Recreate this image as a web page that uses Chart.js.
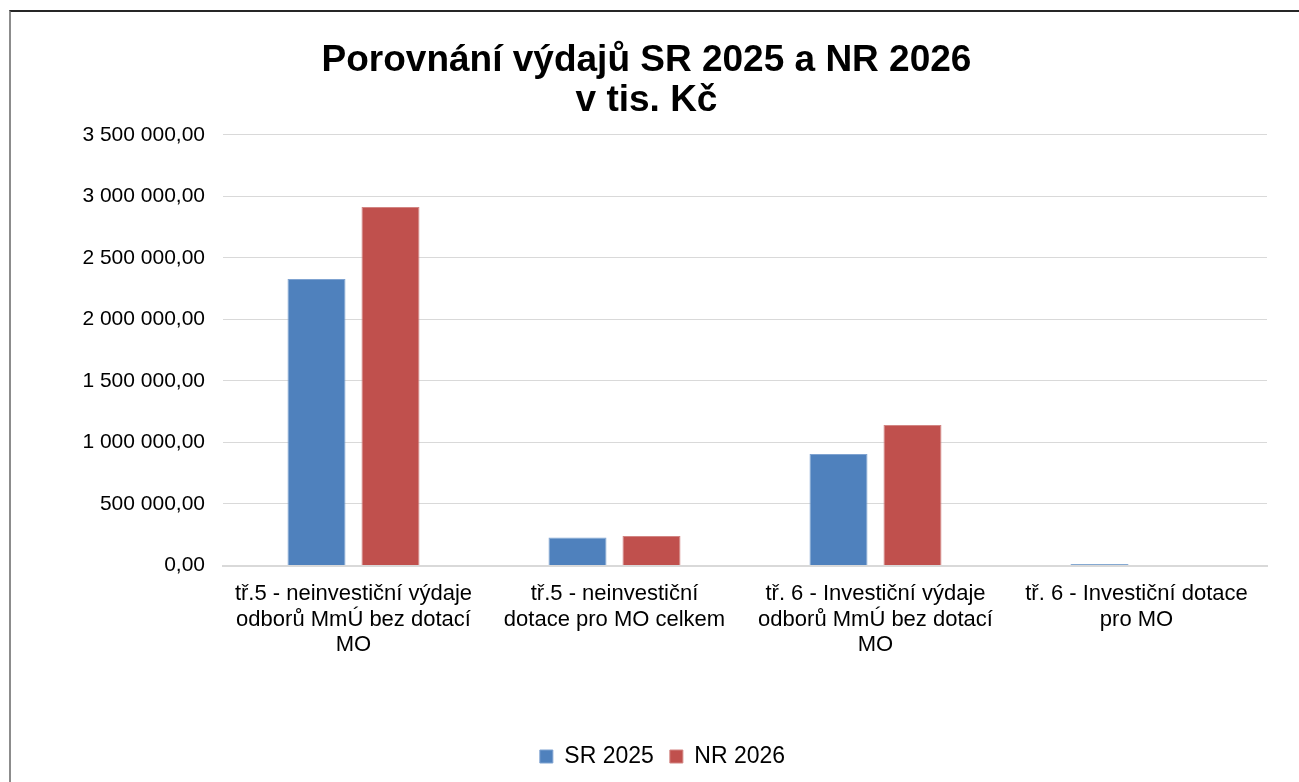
<!DOCTYPE html>
<html>
<head>
<meta charset="utf-8">
<script src="https://cdn.jsdelivr.net/npm/chart.js@4"></script>
<style>
    html, body { margin: 0; padding: 0; background: #fff; }
    #wrap { position: relative; width: 1299px; height: 782px; overflow: hidden; }
    #frame {
        position: absolute; left: 9px; top: 10px; width: 1400px; height: 900px;
        border-top: 2px solid #262626; border-left: 2px solid #8c8c8c;
        pointer-events: none;
    }
</style>
</head>
<body>
<div id="wrap">
    <canvas id="chart" width="1299" height="782"></canvas>
    <div id="frame"></div>
</div>
<script>
        const categories = [
            ['tř.5 - neinvestiční výdaje', 'odborů MmÚ bez dotací', 'MO'],
            ['tř.5 - neinvestiční', 'dotace pro MO celkem'],
            ['tř. 6 - Investiční výdaje', 'odborů MmÚ bez dotací', 'MO'],
            ['tř. 6 - Investiční dotace', 'pro MO']
        ];
        const sr2025 = [2329000, 228000, 906000, 12000];
        const nr2026 = [2915000, 239000, 1143000, 0];
        const yMax = 3500000;
        const yStep = 500000;

        const FONT = '"Liberation Sans", Arial, sans-serif';

        function formatCz(v) {
            const parts = Math.round(v).toString().replace(/\B(?=(\d{3})+(?!\d))/g, ' ');
            return parts + ',00';
        }

        // posune legendu trochu doprava jako v originale
        const legendShift = {
            id: 'legendShift',
            afterLayout(chart) {
                chart.legend.left += 16;
                chart.legend.right += 16;
            }
        };

        const ctx = document.getElementById('chart').getContext('2d');
        const chart = new Chart(ctx, {
            type: 'bar',
            data: {
                labels: categories,
                datasets: [{
                    label: 'SR 2025',
                    data: sr2025,
                    backgroundColor: '#4F81BD',
                    borderColor: '#7fa3d1',
                    borderWidth: 1
                }, {
                    label: 'NR 2026',
                    data: nr2026,
                    backgroundColor: '#C0504D',
                    borderColor: '#d28583',
                    borderWidth: 1
                }]
            },
            options: {
                responsive: false,
                animation: false,
                layout: {
                    padding: { left: 26, right: 32, top: 0, bottom: 4 }
                },
                datasets: {
                    bar: {
                        categoryPercentage: 0.567,
                        barPercentage: 0.784
                    }
                },
                plugins: {
                    title: {
                        display: true,
                        text: ['Porovnání výdajů SR 2025 a NR 2026', 'v tis. Kč'],
                        color: '#000',
                        font: { family: FONT, size: 37, weight: 'bold', lineHeight: 1.08 },
                        padding: { top: 41, bottom: 14 }
                    },
                    legend: {
                        position: 'bottom',
                        labels: {
                            color: '#000',
                            font: { family: FONT, size: 23 },
                            boxWidth: 13,
                            boxHeight: 13,
                            padding: 16
                        }
                    },
                    tooltip: { enabled: false }
                },
                scales: {
                    x: {
                        grid: { display: false, drawTicks: false },
                        border: { display: true, color: '#d9d9d9', width: 2 },
                        ticks: {
                            color: '#000',
                            font: { family: FONT, size: 22, lineHeight: 1.16 },
                            padding: 16,
                            maxRotation: 0,
                            autoSkip: false
                        },
                        afterFit(scale) { scale.height = 163.5; }
                    },
                    y: {
                        min: 0,
                        max: yMax,
                        grid: { color: '#d9d9d9', lineWidth: 1, drawTicks: false },
                        border: { display: false },
                        ticks: {
                            stepSize: yStep,
                            color: '#000',
                            font: { family: FONT, size: 21 },
                            padding: 18,
                            callback: v => formatCz(v)
                        },
                        afterFit(scale) { scale.width = 197; }
                    }
                }
            },
            plugins: [legendShift]
        });
</script>
</body>
</html>
